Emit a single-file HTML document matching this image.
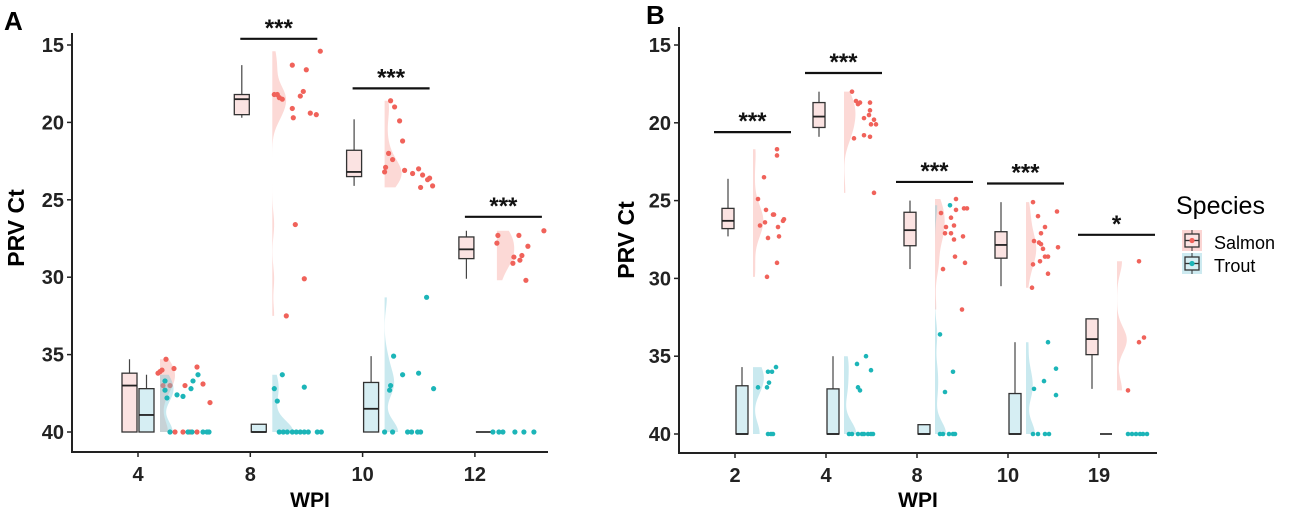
<!DOCTYPE html>
<html><head><meta charset="utf-8">
<style>
html,body{margin:0;padding:0;background:#fff;}
svg text{font-family:"Liberation Sans",Arial,sans-serif;}
</style></head>
<body>
<svg id="chart" width="1299" height="519" viewBox="0 0 1299 519" xmlns="http://www.w3.org/2000/svg">
<text x="4" y="30" font-size="26" font-weight="bold">A</text>
<text x="646" y="24" font-size="26" font-weight="bold">B</text>
<text transform="translate(24,228) rotate(-90)" text-anchor="middle" font-size="23" font-weight="bold">PRV Ct</text>
<text transform="translate(634,240) rotate(-90)" text-anchor="middle" font-size="23" font-weight="bold">PRV Ct</text>
<text x="310" y="507" text-anchor="middle" font-size="21" font-weight="bold">WPI</text>
<text x="918" y="507" text-anchor="middle" font-size="21" font-weight="bold">WPI</text>
<g>
<text x="1176" y="214" font-size="25">Species</text>
<g>
<rect x="1182" y="230" width="20" height="21" fill="#fbd5d3"/>
<rect x="1185" y="234" width="14" height="13" fill="#fbe3e2" stroke="#333" stroke-width="1.3"/>
<line x1="1185" y1="240.5" x2="1199" y2="240.5" stroke="#333" stroke-width="1.3"/>
<line x1="1192" y1="230" x2="1192" y2="234" stroke="#333"/><line x1="1192" y1="247" x2="1192" y2="251" stroke="#333"/>
<circle cx="1192" cy="240.5" r="2.6" fill="#f0625a"/>
<text x="1214" y="249" font-size="18">Salmon</text>
</g>
<g>
<rect x="1182" y="253" width="20" height="21" fill="#cdeaf0"/>
<rect x="1185" y="257" width="14" height="13" fill="#d6eef3" stroke="#333" stroke-width="1.3"/>
<line x1="1185" y1="263.5" x2="1199" y2="263.5" stroke="#333" stroke-width="1.3"/>
<line x1="1192" y1="253" x2="1192" y2="257" stroke="#333"/><line x1="1192" y1="270" x2="1192" y2="274" stroke="#333"/>
<circle cx="1192" cy="263.5" r="2.6" fill="#1cb5b8"/>
<text x="1214" y="272" font-size="18">Trout</text>
</g>
</g>
</svg>
<script>
// ---------- Panel A data ----------
const aCategories = ["4","8","10","12"];
const aSalmonBox = [[35.3,36.2,37.0,40,40],[16.3,18.2,18.5,19.5,19.7],[19.8,21.8,23.2,23.5,24.1],[27.0,27.4,28.2,28.8,30.1]];
const aTroutBox = [[36.3,37.2,38.9,40,40],[39.5,39.5,40,40,40],[35.1,36.8,38.5,40,40],[40,40,40,40,40]];
const aSalmonVals = [
 [36.2,36.1,36.0,35.3,37.0,37.0,35.9,37.0,35.8,36.9,38.1,40,40,40,40],
 [16.3,16.6,15.4,18.2,18.2,18.4,18.5,18.3,18.0,19.1,19.7,19.4,19.5,26.6,30.1,32.5],
 [18.6,19.0,19.9,21.2,22.0,22.4,22.9,23.2,23.1,23.3,23.0,23.4,23.7,23.6,24.1,24.2],
 [27.3,27.8,27.3,28.0,28.7,28.6,29.1,28.9,30.2,27.0]];
const aSalmonJit = [
 [20,22,24,28,25,32,36,47,59,65,72,37,45,52,59],
 [42,56,70,24,27,29,32,50,53,42,43,60,66,45,54,36],
 [28,32,37,40,26,30,23,22,42,50,56,60,65,67,70,58],
 [23,22,44,53,39,47,38,45,51,69]];
const aTroutVals = [
 [36.7,37.3,37.8,37.6,37.7,37.2,36.7,36.3,40,40,40,40,40,40],
 [37.2,36.3,38.0,37.1,40,40,40,40,40,40,40,40,40,40],
 [35.1,36.3,36.2,37.0,37.3,31.3,37.2,40,40,40,40,40,40],
 [40,40,40,40,40,40]];
const aTroutJit = [
 [27,27,29,39,45,53,55,60,32,50,54,65,69,71],
 [24,32,27,54,29,33,37,42,46,50,54,58,67,71],
 [31,40,56,28,27,64,71,22,30,45,49,55,58],
 [18,24,28,40,49,59]];
const aSig = ["","***","***","***"];
const aSigY = [0,14.6,17.8,26.1];
// ---------- Panel B data ----------
const bCategories = ["2","4","8","10","19"];
const bSalmonBox = [[23.6,25.5,26.3,26.8,27.3],[18.0,18.7,19.6,20.3,20.9],[25.0,25.75,26.9,27.9,29.4],[25.1,27.0,27.85,28.7,30.5],[32.6,32.6,33.9,34.9,37.1]];
const bTroutBox = [[35.7,36.9,40,40,40],[35.0,37.1,40,40,40],[39.4,39.4,40,40,40],[34.1,37.4,40,40,40],[40,40,40,40,40]];
const bSalmonVals = [
 [21.7,22.1,23.5,24.9,25.6,25.9,25.9,26.4,26.6,26.3,26.2,26.7,27.4,27.3,29.0,29.9],
 [18.0,18.6,18.8,18.7,18.7,19.2,19.5,19.7,19.8,20.1,20.1,21.0,20.8,20.9,24.5],
 [24.9,25.8,26.1,25.6,25.5,25.5,26.7,26.6,27.1,27.1,27.5,27.3,28.6,29.0,29.4,32.0],
 [25.1,25.7,26.0,26.7,27.1,27.6,27.7,27.8,28.1,28.0,28.6,28.6,28.9,29.1,29.7,30.6],
 [28.9,34.1,33.8,37.2]];
const bSalmonJit = [
 [42,42,29,23,31,38,39,30,25,48,49,43,33,44,42,32],
 [26,30,32,34,44,44,43,38,48,45,50,28,38,44,48],
 [39,24,34,39,47,50,29,37,28,34,37,46,38,48,26,45],
 [25,49,30,37,33,26,31,33,35,50,37,40,32,25,40,24],
 [40,40,45,29]];
const bTroutVals = [
 [37.0,37.0,36.7,36.0,36.0,35.7,40,40,40],
 [35.0,35.5,35.9,37.0,37.2,40,40,40,40,40,40,40,40],
 [25.3,33.6,36.0,37.3,40,40,40,40,40],
 [34.1,35.8,36.6,37.1,37.5,40,40,40,40],
 [40,40,40,40,40,40]];
const bTroutJit = [
 [23,32,34,33,37,41,33,36,38],
 [40,31,45,32,34,23,26,32,36,38,42,45,47],
 [33,23,36,28,23,26,32,36,38],
 [40,48,36,26,48,25,30,37,41],
 [29,33,37,41,44,48]];
const bSig = ["***","***","***","***","*"];
const bSigY = [20.6,16.8,23.8,23.9,27.2];

const SVGNS="http://www.w3.org/2000/svg";
const svg=document.getElementById('chart');
function mk(tag,attrs,parent){const e=document.createElementNS(SVGNS,tag);for(const k in attrs)e.setAttribute(k,attrs[k]);(parent||svg).appendChild(e);return e;}

function kde(vals,bw,y){let s=0;for(const v of vals){const z=(y-v)/bw;s+=Math.exp(-0.5*z*z);}return s/(vals.length*bw*Math.sqrt(2*Math.PI));}

function drawPanel(cfg){
  const yS=v=>cfg.y15+(v-15)*(cfg.y40-cfg.y15)/25;
  const xS=i=>cfg.x0+i*cfg.step;
  const g=mk('g',{});
  
  
  const ax=mk('line',{x1:cfg.axX,y1:cfg.axTop,x2:cfg.axX,y2:cfg.axBot,stroke:'#222','stroke-width':2},g);
  
  
  const bx=mk('line',{x1:cfg.axX-1,y1:cfg.axBot,x2:cfg.axRight,y2:cfg.axBot,stroke:'#222','stroke-width':2},g);
  
  
  [15,20,25,30,35,40].forEach(t=>{
    mk('line',{x1:cfg.axX-5,y1:yS(t),x2:cfg.axX,y2:yS(t),stroke:'#222','stroke-width':1.5},g);
    const tx=mk('text',{x:cfg.axX-8,y:yS(t)+7,'text-anchor':'end','font-size':20,'font-weight':'bold',fill:'#222'},g);
    tx.textContent=t;
    
    
  });
  cfg.cats.forEach((c,i)=>{
    const cx=xS(i);
    mk('line',{x1:cx,y1:cfg.axBot,x2:cx,y2:cfg.axBot+5,stroke:'#222','stroke-width':1.5},g);
    const tx=mk('text',{x:cx,y:cfg.axBot+29,'text-anchor':'middle','font-size':20,'font-weight':'bold',fill:'#222'},g);
    tx.textContent=c;
    
    
  });
  const species=[
    {key:'salmon',box:cfg.sBox,vals:cfg.sVals,jit:cfg.sJit,vfill:'rgba(248,170,165,0.45)',bfill:'#fbe3e2',pt:'#f0625a',side:-1},
    {key:'trout',box:cfg.tBox,vals:cfg.tVals,jit:cfg.tJit,vfill:'rgba(120,200,215,0.4)',bfill:'#d6eef3',pt:'#1cb5b8',side:1}];
  cfg.cats.forEach((c,i)=>{
    const cx=xS(i);
    species.forEach(sp=>{
      const vals=sp.vals[i];
      const mn=Math.min(...vals),mx=Math.max(...vals);
      if(mx>mn){
        let d=`M${cx+cfg.vOff},${yS(mn)}`;
        const N=80;
        for(let k=0;k<=N;k++){const yv=mn+(mx-mn)*k/N;const w=kde(vals,cfg.bw,yv)*cfg.vScale;d+=` L${cx+cfg.vOff+w},${yS(yv)}`;}
        d+=` L${cx+cfg.vOff},${yS(mx)} Z`;
        const p=mk('path',{d:d,fill:sp.vfill},g);
        
        
      }
      const b=sp.box[i];
      const x1=sp.side<0?cx-1-cfg.bw2:cx+1, x2=x1+cfg.bw2, mid=(x1+x2)/2;
      const bg=mk('g',{},g);
      
      
      if(b[1]===b[3]){
        mk('line',{x1:x1,y1:yS(b[2]),x2:x2,y2:yS(b[2]),stroke:'#333','stroke-width':1.8},bg);
      } else {
        mk('line',{x1:mid,y1:yS(b[0]),x2:mid,y2:yS(b[4]),stroke:'#444','stroke-width':1.2},bg);
        mk('rect',{x:x1,y:yS(b[1]),width:cfg.bw2,height:yS(b[3])-yS(b[1]),fill:sp.bfill,stroke:'#333','stroke-width':1.3},bg);
        mk('line',{x1:x1,y1:yS(b[2]),x2:x2,y2:yS(b[2]),stroke:'#222','stroke-width':1.8},bg);
      }
      vals.forEach((v,k)=>{
        const pt=mk('circle',{cx:cx+sp.jit[i][k],cy:yS(v),r:cfg.r,fill:sp.pt},g);
        
        
      });
    });
    if(cfg.sig[i]){
      const y=yS(cfg.sigY[i]);
      const l=mk('line',{x1:cx+cfg.sigL,y1:y,x2:cx+cfg.sigR,y2:y,stroke:'#111','stroke-width':2.2},g);
      
      
      const t=mk('text',{x:cx+(cfg.sigL+cfg.sigR)/2,y:y-3,'text-anchor':'middle','font-size':24,'font-weight':'bold',fill:'#111'},g);
      t.textContent=cfg.sig[i];
      
      
    }
  });
}
drawPanel({name:'panel-a',cats:aCategories,sBox:aSalmonBox,tBox:aTroutBox,sVals:aSalmonVals,sJit:aSalmonJit,tVals:aTroutVals,tJit:aTroutJit,sig:aSig,sigY:aSigY,
  y15:45,y40:432,x0:138,step:112.3,axX:72,axTop:33,axBot:452,axRight:548,bw2:15,vOff:22,bw:0.75,vScale:55,r:2.6,sigL:-10,sigR:67});
drawPanel({name:'panel-b',cats:bCategories,sBox:bSalmonBox,tBox:bTroutBox,sVals:bSalmonVals,sJit:bSalmonJit,tVals:bTroutVals,tJit:bTroutJit,sig:bSig,sigY:bSigY,
  y15:45,y40:434,x0:735,step:91,axX:679,axTop:27,axBot:453,axRight:1157,bw2:12,vOff:18,bw:0.8,vScale:40,r:2.3,sigL:-21,sigR:56});
</script>
</body></html>
